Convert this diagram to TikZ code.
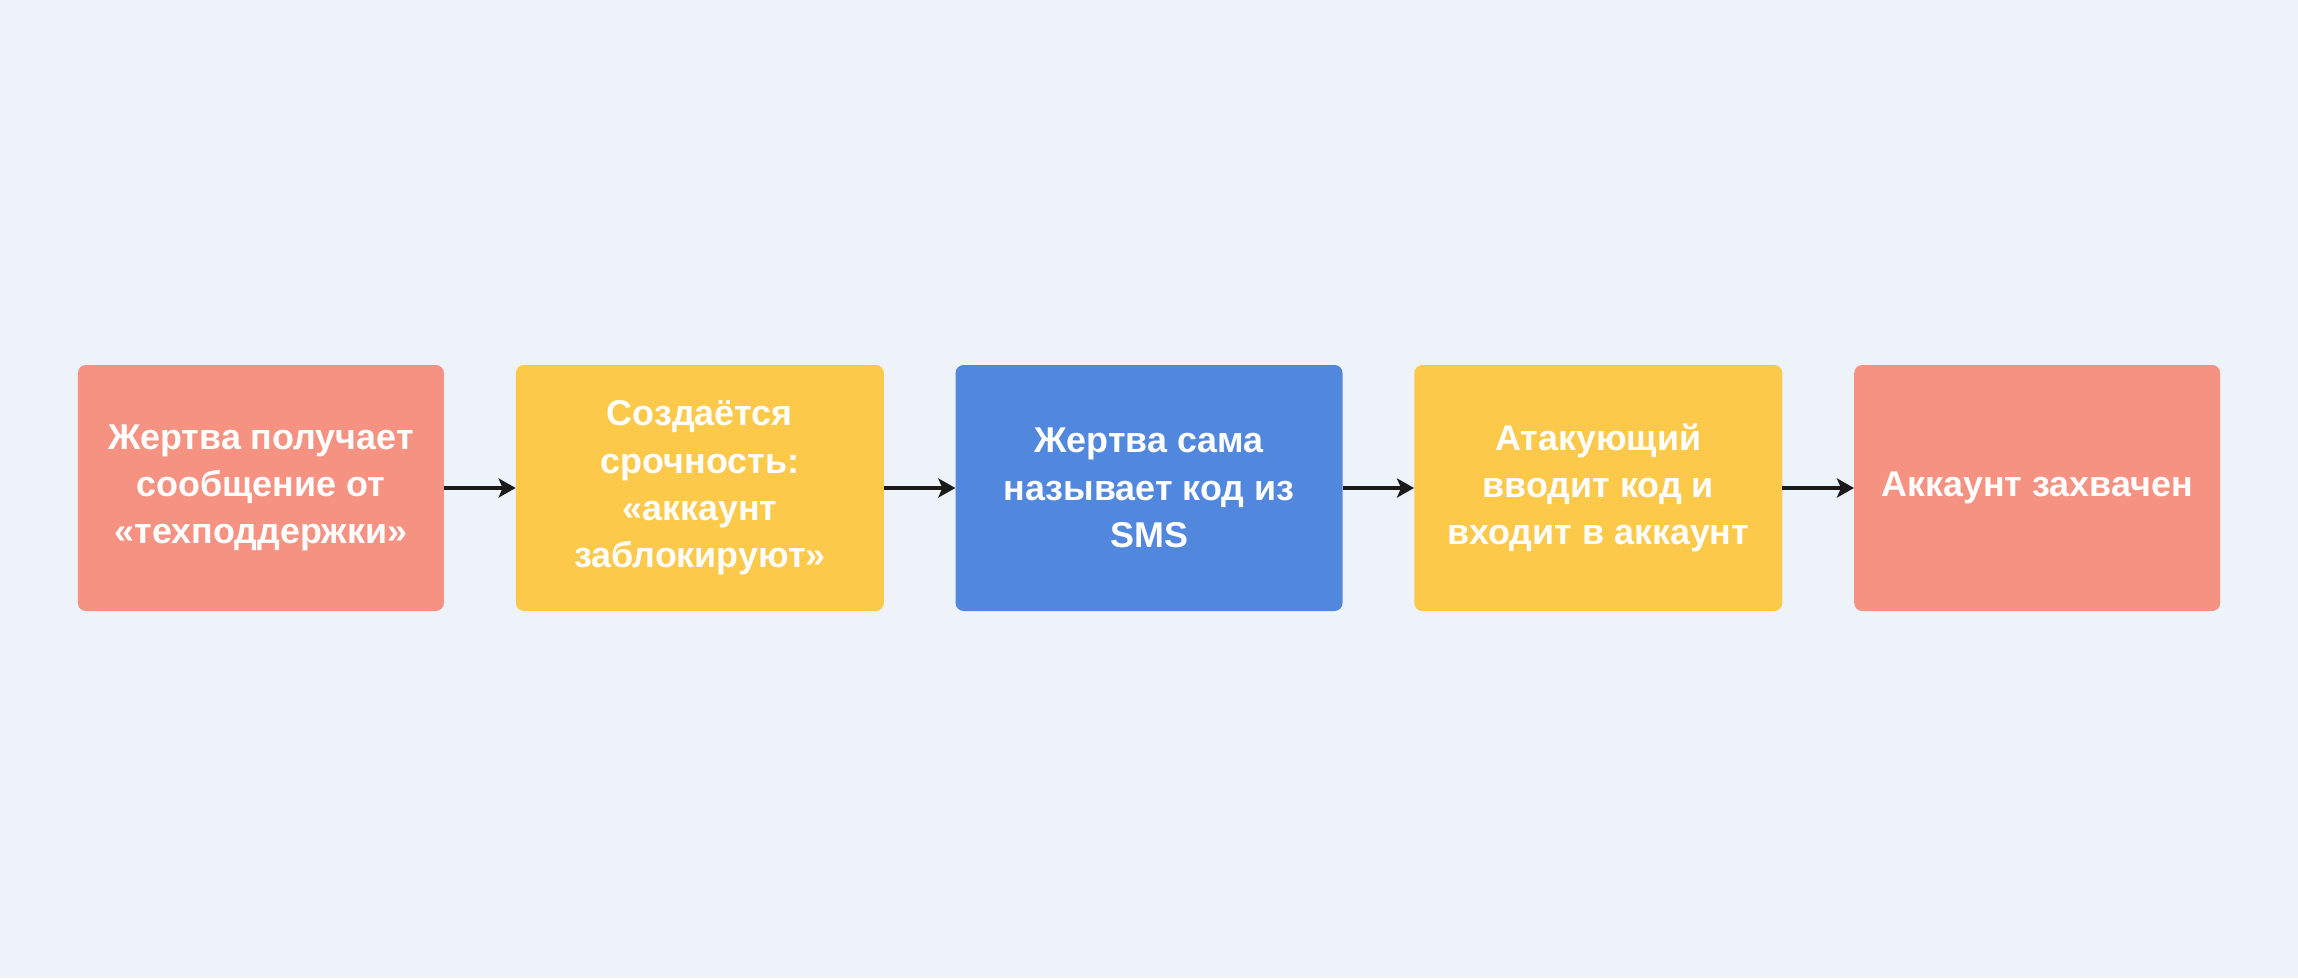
\documentclass[tikz,border=0pt]{standalone}
\usepackage{fontspec}
\setmainfont{Liberation Sans}
\usetikzlibrary{arrows.meta}
\definecolor{bg}{HTML}{EEF3FA}
\definecolor{salmon}{HTML}{F59282}
\definecolor{yel}{HTML}{FCC94A}
\definecolor{blu}{HTML}{5287DE}
\definecolor{arr}{HTML}{1A1A1A}
\tikzset{
  stepbox/.style={rounded corners=8bp, minimum height=246bp, inner sep=0pt,
    align=center, text=white, font=\fontsize{36}{47.5}\selectfont\bfseries},
  flow/.style={draw=arr, line width=3.5bp, -{Stealth[length=17bp,width=19bp,inset=4bp]}}
}
\begin{document}
\begin{tikzpicture}[x=1bp,y=1bp]
\fill[bg] (0,0) rectangle (2298,-978);
\useasboundingbox (0,0) rectangle (2298,-978);
\node[stepbox, fill=salmon, minimum width=366bp] (a) at (260.9,-488) {Жертва получает\\сообщение от\\«техподдержки»};
\node[stepbox, fill=yel, minimum width=368bp] (b) at (699.85,-488) {Создаётся\\срочность:\\«аккаунт\\заблокируют»};
\node[stepbox, fill=blu, minimum width=387bp] (c) at (1149.05,-488) {Жертва сама\\называет код из\\SMS};
\node[stepbox, fill=yel, minimum width=368bp] (d) at (1598.25,-488) {Атакующий\\вводит код и\\входит в аккаунт};
\node[stepbox, fill=salmon, minimum width=366bp] (e) at (2037.2,-488) {Аккаунт захвачен};
\draw[flow] (a) -- (b);
\draw[flow] (b) -- (c);
\draw[flow] (c) -- (d);
\draw[flow] (d) -- (e);
\end{tikzpicture}
\end{document}
